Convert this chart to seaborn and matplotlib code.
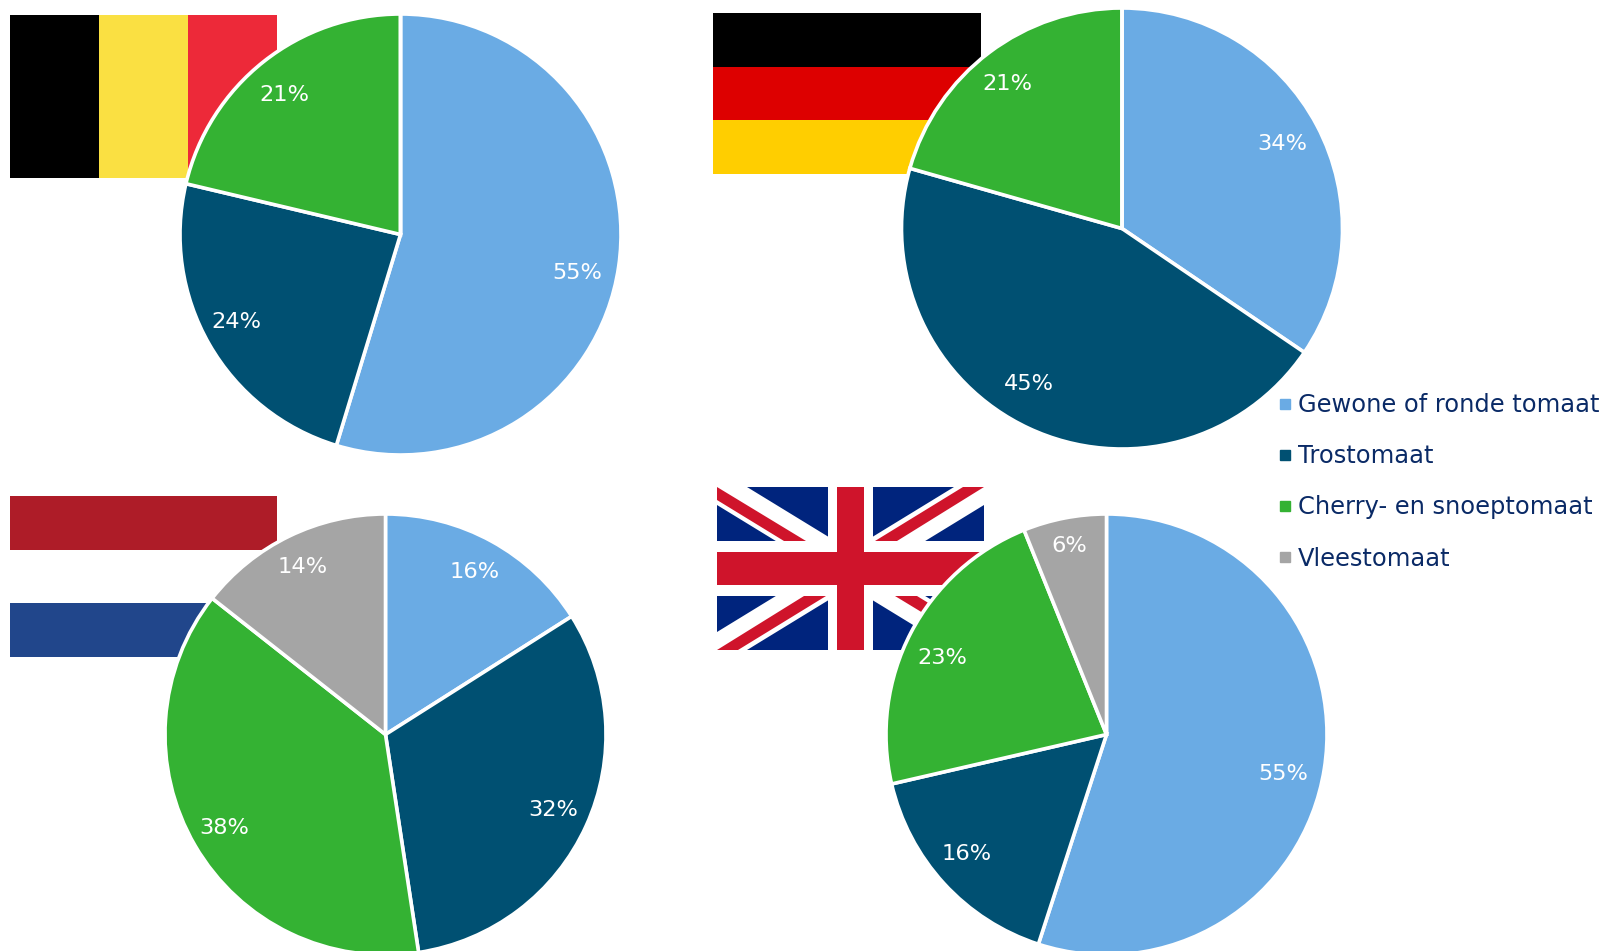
import matplotlib
matplotlib.use('Agg')
import seaborn as sns
import matplotlib.pyplot as plt
from matplotlib.patches import Rectangle, Polygon
from matplotlib.lines import Line2D

sns.set_theme(style='white')
plt.rcParams['font.family'] = ['DejaVu Sans']

W, H = 1602, 951

types = ['Gewone of ronde tomaat', 'Trostomaat', 'Cherry- en snoeptomaat', 'Vleestomaat']
palette = sns.color_palette(['#6AABE4', '#005072', '#34B233', '#A5A5A5'])

be_shares = [54.7, 24.0, 21.3, 0]
de_shares = [34.5, 44.9, 20.6, 0]
nl_shares = [16.0, 31.6, 38.0, 14.4]
uk_shares = [55.0, 16.4, 22.5, 6.1]
be_labels = ['55%', '24%', '21%', '']
de_labels = ['34%', '45%', '21%', '']
nl_labels = ['16%', '32%', '38%', '14%']
uk_labels = ['55%', '16%', '23%', '6%']

fig = plt.figure(figsize=(W / 100, H / 100), dpi=100)

# background axes in pixels, the flags go here
bg = fig.add_axes([0, 0, 1, 1])
bg.set_xlim(0, W)
bg.set_ylim(H, 0)
bg.axis('off')


def stripes_v(x, y, w, h, colors):
    for i, c in enumerate(colors):
        bg.add_patch(Rectangle((x + i * w / len(colors), y), w / len(colors), h, color=c, lw=0))


def stripes_h(x, y, w, h, colors):
    for i, c in enumerate(colors):
        bg.add_patch(Rectangle((x, y + i * h / len(colors)), w, h / len(colors), color=c, lw=0))


def union_jack(x, y):
    w, h = 267, 163
    blue, red = '#00247D', '#CF142B'
    frame = Rectangle((x, y), w, h, color=blue, lw=0)
    bg.add_patch(frame)

    def poly(pts, c):
        bg.add_patch(Polygon([(x + u, y + v) for u, v in pts], closed=True, color=c, lw=0))

    poly([(0, 0), (30, 0), (267, 145), (267, 163), (237, 163), (0, 18)], 'white')
    poly([(267, 0), (237, 0), (0, 145), (0, 163), (30, 163), (267, 18)], 'white')
    poly([(0, 0), (89, 54), (67, 54), (0, 13)], red)
    poly([(246, 0), (267, 0), (180, 54), (158, 54)], red)
    poly([(0, 163), (21, 163), (109, 109), (87, 109)], red)
    poly([(267, 163), (178, 109), (200, 109), (267, 150)], red)
    bg.add_patch(Rectangle((x, y + 54), w, 55, color='white', lw=0))
    bg.add_patch(Rectangle((x + 111, y), 45, h, color='white', lw=0))
    bg.add_patch(Rectangle((x, y + 65), w, 33, color=red, lw=0))
    bg.add_patch(Rectangle((x + 120, y), 27, h, color=red, lw=0))


stripes_v(10, 15, 267, 163, ['#000000', '#FAE042', '#ED2939'])
stripes_h(713, 13, 268, 161, ['#000000', '#DD0000', '#FFCE00'])
stripes_h(10, 496, 267, 161, ['#AE1C28', '#FFFFFF', '#21468B'])
union_jack(717, 487)


def draw_pie(cx, cy, shares, labels, nudges, r=220.5):
    ax = fig.add_axes([(cx - r) / W, 1 - (cy + r) / H, 2 * r / W, 2 * r / H])
    ax.patch.set_alpha(0)
    wedges, texts = ax.pie(shares, colors=palette, labels=labels, startangle=90, counterclock=False,
                           labeldistance=0.83,
                           wedgeprops={'edgecolor': 'white', 'linewidth': 2.6, 'clip_on': False},
                           textprops={'color': 'white', 'fontsize': 16.2})
    # the labels in the original don't sit exactly on the radius, shift them by a few pixels
    for t, (dx, dy) in zip(texts, nudges):
        t.set_ha('center')
        t.set_va('center')
        px, py = t.get_position()
        t.set_position((px + dx / r, py - dy / r))
    ax.set_xlim(-1, 1)
    ax.set_ylim(-1, 1)


draw_pie(400.5, 234.5, be_shares, be_labels, [(-4, 12), (-5, -4), (-3, 4), (0, 0)])
draw_pie(1122, 228.5, de_shares, de_labels, [(-1, 1), (-16, -10), (-4, 2), (0, 0)])
draw_pie(385.5, 734.5, nl_shares, nl_labels, [(1, -2), (1, 0), (-3, 1), (-3, -3)])
draw_pie(1106.5, 734.5, uk_shares, uk_labels, [(-4, 11), (-5, -4), (-2, 8), (-2, -9)])

handles = [Line2D([], [], ls='', marker='s', ms=6.5, color=c) for c in palette]
fig.legend(handles, types, loc='upper left', bbox_to_anchor=(1280 / W, 1 - 393 / H), frameon=False,
           fontsize=17.4, labelcolor='#0A2A66', handlelength=0.4, handletextpad=0.34,
           labelspacing=1.125, borderpad=0, borderaxespad=0)

plt.savefig('out.png', dpi=100)
